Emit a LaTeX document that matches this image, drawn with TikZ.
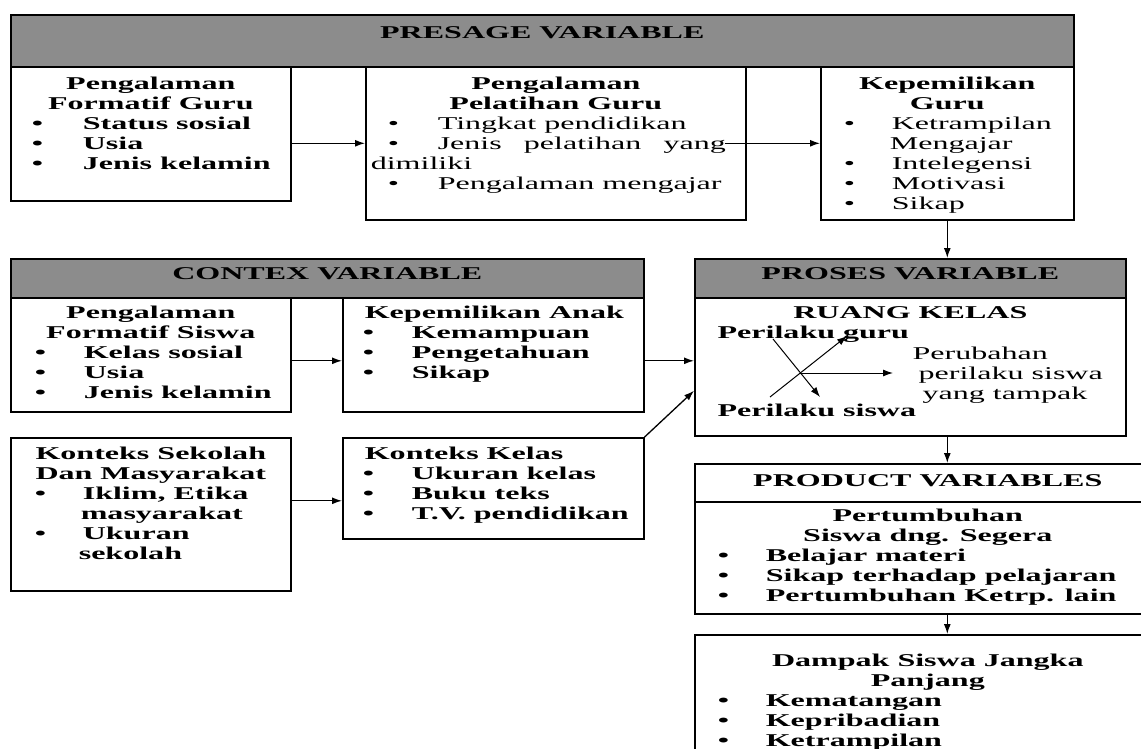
\documentclass[tikz,border=0pt]{standalone}
\usepackage{fontspec}
\setmainfont{Liberation Serif}[FakeStretch=1.78]
\usepackage{tikz}
\usetikzlibrary{arrows.meta}

\newcommand{\pane}[3]{\begin{minipage}[t][#2][t]{#1}#3\end{minipage}}
\newcommand{\itm}[3]{\hspace*{#1}\makebox[#2][l]{\textbullet}#3}
\newcommand{\gap}[1]{\rule{0pt}{#1}}

\begin{document}
\begin{tikzpicture}[x=1pt, y=-1pt,
    font=\fontsize{18}{20}\selectfont\bfseries,
    every node/.style={inner sep=0pt, anchor=north west},
    pane/.style={draw=black, line width=1.6pt},
    head/.style={pane, fill=black!45},
    plain/.style={font=\fontsize{18}{20}\selectfont\mdseries},
    >={Latex[length=10pt,width=7pt]}, line width=1.3pt]
    \useasboundingbox (0,0) rectangle (1141,749);
    \clip (0,0) rectangle (1141,749);
    % presage
    \node[head] (presage) at (10,14) {\pane{1063pt}{52pt}{\centering\gap{24pt}PRESAGE VARIABLE}};
    \node[pane] (fguru) at (10,66) {\pane{280pt}{134pt}{{\centering\gap{23pt}Pengalaman\\Formatif Guru\par}\raggedright
        \itm{21pt}{51pt}{Status sosial}\\
        \itm{21pt}{51pt}{Usia}\\
        \itm{21pt}{51pt}{Jenis kelamin}}};
    \node[pane] (pguru) at (365,66) {\pane{380pt}{153pt}{{\centering\gap{23pt}Pengalaman\\Pelatihan Guru\par}\raggedright\mdseries
        \itm{22pt}{50pt}{Tingkat pendidikan}\\
        \itm{22pt}{50pt}{\makebox[288pt][s]{Jenis pelatihan yang}}\\
        \hspace*{5pt}dimiliki\\
        \itm{22pt}{50pt}{Pengalaman mengajar}}};
    \node[pane] (kguru) at (820,66) {\pane{253pt}{153pt}{{\centering\gap{23pt}Kepemilikan\\Guru\par}\raggedright\mdseries
        \itm{23pt}{48pt}{Ketrampilan}\\
        \hspace*{69pt}Mengajar\\
        \itm{23pt}{48pt}{Intelegensi}\\
        \itm{23pt}{48pt}{Motivasi}\\
        \itm{23pt}{48pt}{Sikap}}};
    % contex
    \node[head] (contex) at (10,258) {\pane{633pt}{39pt}{\centering\gap{21pt}CONTEX VARIABLE}};
    \node[pane] (fsiswa) at (10,297) {\pane{280pt}{114pt}{{\centering\gap{21pt}Pengalaman\\Formatif Siswa\par}\raggedright
        \itm{24pt}{49pt}{Kelas sosial}\\
        \itm{24pt}{49pt}{Usia}\\
        \itm{24pt}{49pt}{Jenis kelamin}}};
    \node[pane] (kanak) at (342,297) {\pane{301pt}{114pt}{\raggedright\hspace*{22pt}\gap{21pt}Kepemilikan Anak\\
        \itm{20pt}{49pt}{Kemampuan}\\
        \itm{20pt}{49pt}{Pengetahuan}\\
        \itm{20pt}{49pt}{Sikap}}};
    \node[pane] (ksek) at (10,437) {\pane{280pt}{153pt}{{\centering\gap{22pt}Konteks Sekolah\\Dan Masyarakat\par}\raggedright
        \itm{24pt}{48pt}{Iklim, Etika}\\
        \hspace*{70pt}masyarakat\\
        \itm{24pt}{48pt}{Ukuran}\\
        \hspace*{68pt}sekolah}};
    \node[pane] (kkelas) at (342,437) {\pane{301pt}{101pt}{\raggedright\hspace*{22pt}\gap{22pt}Konteks Kelas\\
        \itm{20pt}{49pt}{Ukuran kelas}\\
        \itm{20pt}{49pt}{Buku teks}\\
        \itm{20pt}{49pt}{T.V. pendidikan}}};
    % proses
    \node[head] (hproses) at (694,258) {\pane{431pt}{39pt}{\centering\gap{21pt}PROSES VARIABLE}};
    \node[pane] (bproses) at (694,297) {\pane{431pt}{138pt}{\centering\gap{21pt}RUANG KELAS}};
    \node[anchor=base west] (plguru) at (717,338) {Perilaku guru};
    \node[anchor=base west] (plsiswa) at (717,416) {Perilaku siswa};
    \node[plain, align=left] (ubah) at (912,346) {Perubahan\\\hspace*{6pt}perilaku siswa\\\hspace*{10pt}yang tampak};
    \coordinate (g1) at (773,339);
    \coordinate (g2) at (820,397);
    \coordinate (s1) at (770,397);
    \coordinate (s2) at (847,336);
    \coordinate (xc) at (800,373);
    \coordinate (xe) at (893,373);
    % product
    \node[pane] (hproduct) at (694,463) {\pane{466pt}{38pt}{\centering\gap{23pt}PRODUCT VARIABLES}};
    \node[pane] (bproduct) at (694,501) {\pane{466pt}{112pt}{{\centering\gap{20pt}Pertumbuhan\\Siswa dng. Segera\par}\raggedright
        \itm{23pt}{48pt}{Belajar materi}\\
        \itm{23pt}{48pt}{Sikap terhadap pelajaran}\\
        \itm{23pt}{48pt}{Pertumbuhan Ketrp. lain}}};
    \node[pane] (dampak) at (694,634) {\pane{466pt}{136pt}{{\centering\gap{32pt}Dampak Siswa Jangka\\Panjang\par}\raggedright
        \itm{23pt}{48pt}{Kematangan}\\
        \itm{23pt}{48pt}{Kepribadian}\\
        \itm{23pt}{48pt}{Ketrampilan}}};
    % arrows
    \path [->] (fguru.east |- pguru.west) edge (pguru.west);
    \path [->] (pguru.east) edge[shorten <=-22pt] (kguru.west);
    \path [->] (kguru.south) edge (kguru.south |- hproses.north);
    \path [->] ([yshift=-6pt]fsiswa.east) edge ([yshift=-6pt]kanak.west);
    \path [->] ([yshift=-6pt]kanak.east) edge ([yshift=-6pt]kanak.east -| bproses.west);
    \path [->] ([yshift=13.5pt]ksek.east) edge ([yshift=13.5pt]ksek.east -| kkelas.west);
    \path [->] (kkelas.north east) edge ([yshift=-24pt]bproses.west);
    \path [->, line width=1pt] (g1) edge (g2);
    \path [->, line width=1pt] (s1) edge (s2);
    \path [->, line width=1pt] (xc) edge (xe);
    \path [->] (kguru.south |- bproses.south) edge (kguru.south |- hproduct.north);
    \path [->] (kguru.south |- bproduct.south) edge (kguru.south |- dampak.north);
\end{tikzpicture}
\end{document}
